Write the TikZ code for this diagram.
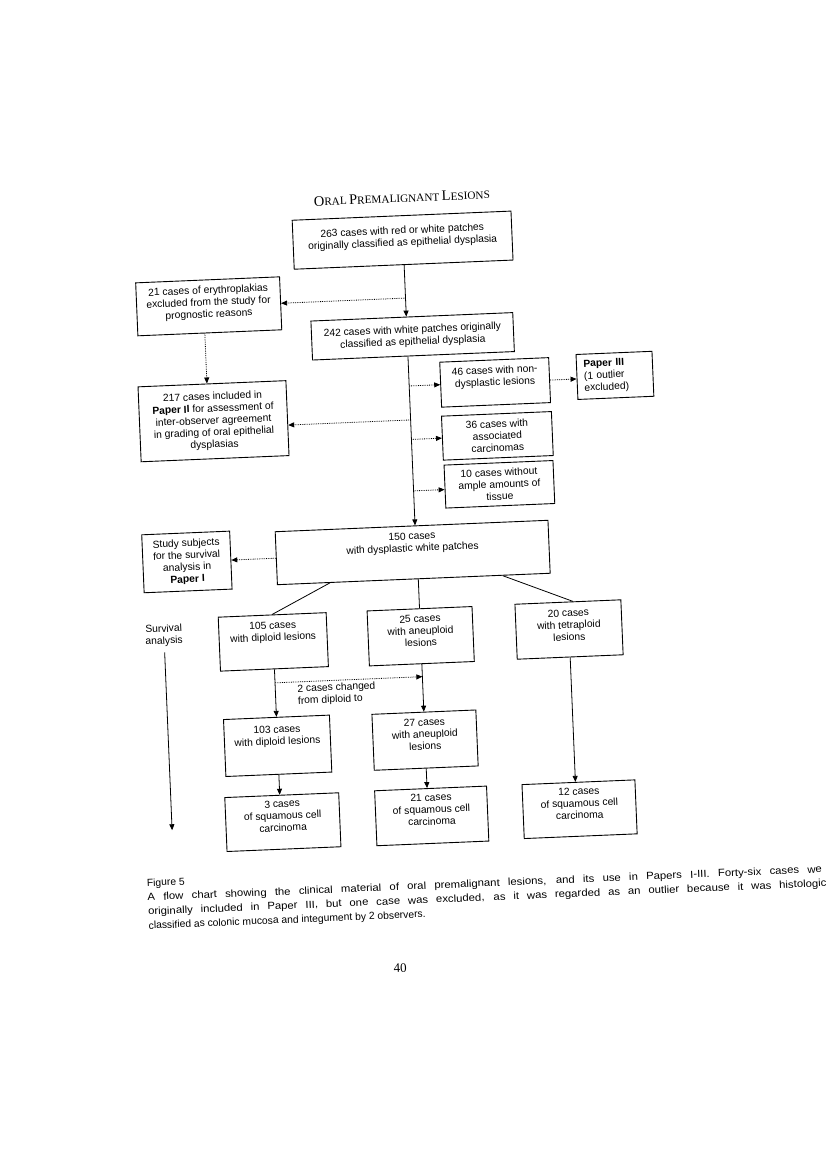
\documentclass[tikz,border=0pt]{standalone}
\usepackage{fontspec}
\setmainfont{Liberation Serif}
\setsansfont{Liberation Sans}
\newfontfamily\capwide{Liberation Sans}[FakeStretch=1.1]
\usetikzlibrary{arrows.meta, positioning}
\newcommand{\boxfont}{\sffamily\fontsize{10.3}{12}\selectfont}
\newcommand{\capfont}{\sffamily\fontsize{10.3}{14.2}\selectfont}
\newcommand{\gap}[1]{\rule[-#1]{0pt}{#1}}
\newcommand{\fakesc}[2]{{\fontsize{14.5}{16}\selectfont #1}{\fontsize{11.2}{13}\selectfont #2}}

\begin{document}
\begin{tikzpicture}[
    x=1pt, y=-1pt,
    box/.style={draw, line width=0.9pt, align=center, inner sep=2pt, font=\boxfont},
    arrow/.style={-{Triangle[length=6pt, width=5pt]}, line width=0.8pt},
    dotarrow/.style={arrow, densely dotted},
    link/.style={line width=0.8pt},
    note/.style={align=center, inner sep=1pt, font=\boxfont}
]
    \useasboundingbox (0,0) rectangle (826,1169);
    % the scanned page sits slightly turned
    \begin{scope}[rotate around={2.4:(413,584)}, transform shape]
    \node[font=\rmfamily] (title) at (418,197.5) {\fakesc{O}{RAL} \fakesc{P}{REMALIGNANT} \fakesc{L}{ESIONS}};

    \node[box, minimum width=219pt, minimum height=49pt] (all) at (417,240) {263 cases with red or white patches\\originally classified as epithelial dysplasia\gap{8pt}};
    \node[box, minimum width=144pt, minimum height=53pt] (erythro) at (220.5,298) {21 cases of erythroplakias\\excluded from the study for\\prognostic reasons\gap{9pt}};
    \node[box, minimum width=202pt, minimum height=39pt] (white) at (423,336.5) {242 cases with white patches originally\\classified as epithelial dysplasia};
    \node[box, minimum width=148pt, minimum height=75pt] (included) at (220.5,413) {217 cases included in\\\textbf{Paper II} for assessment of\\inter-observer agreement\\in grading of oral epithelial\\dysplasias};
    \node[box, minimum width=109pt, minimum height=45pt] (nondys) at (503.5,386) {46 cases with non-\\dysplastic lesions\gap{13pt}};
    \node[box, minimum width=76pt, minimum height=45pt, text width=62pt, align=left] (paper3) at (623.5,384) {\textbf{Paper III}\\(1 outlier\\excluded)};
    \node[box, minimum width=110pt, minimum height=44pt] (assoc) at (503.5,439.5) {36 cases with\\associated\\carcinomas};
    \node[box, minimum width=109pt, minimum height=43pt] (tissue) at (503.5,488) {10 cases without\\ample amounts of\\tissue};
    \node[box, minimum width=273pt, minimum height=53pt] (dysp) at (414,552.5) {150 cases\\with dysplastic white patches\gap{21pt}};
    \node[box, minimum width=88pt, minimum height=58pt] (paper1) at (188,552.5) {Study subjects\\for the survival\\analysis in\\\textbf{Paper I}};

    \node[box, minimum width=108pt, minimum height=54pt] (diploid) at (271,636) {105 cases\\with diploid lesions\gap{21pt}};
    \node[box, minimum width=105pt, minimum height=55pt] (aneup) at (418.5,636.5) {25 cases\\with aneuploid\\lesions\gap{11pt}};
    \node[box, minimum width=106pt, minimum height=55pt] (tetra) at (567,636) {20 cases\\with tetraploid\\lesions\gap{9pt}};
    \node[note] (surv) at (162,625) {Survival\\analysis};

    \node[box, minimum width=106pt, minimum height=57pt] (diploid2) at (271,740) {103 cases\\with diploid lesions\gap{21pt}};
    \node[box, minimum width=104pt, minimum height=56pt] (aneup2) at (418.5,740.5) {27 cases\\with aneuploid\\lesions\gap{12pt}};
    \node[box, minimum width=114pt, minimum height=54pt] (scc1) at (273,816.5) {3 cases\\of squamous cell\\carcinoma\gap{13pt}};
    \node[box, minimum width=112pt, minimum height=55pt] (scc2) at (422,816.5) {21 cases\\of squamous cell\\carcinoma\gap{13pt}};
    \node[box, minimum width=113pt, minimum height=54pt] (scc3) at (570,816) {12 cases\\of squamous cell\\carcinoma\gap{12pt}};
    \node[note, align=left, anchor=west] (changed) at (292,690.6) {2 cases changed\\from diploid to};

    % main trunk and side exits
    \coordinate (t1) at (417.5,298);
    \coordinate (t2) at (417.5,386);
    \coordinate (t3) at (417.5,420);
    \coordinate (t4) at (417.5,439.5);
    \coordinate (t5) at (417.5,491);
    \draw[arrow] ([xshift=0.5pt]all.south) -- ([xshift=-5.5pt]white.north);
    \draw[dotarrow] (t1) -- (erythro.east);
    \draw[dotarrow] ([xshift=-5pt]erythro.south) -- ([xshift=-5pt]included.north);
    \draw[arrow] ([xshift=-5.5pt]white.south) -- ([xshift=3.5pt]dysp.north);
    \draw[dotarrow] (t2) -- (nondys.west);
    \draw[dotarrow] (nondys.east) -- ([yshift=-2pt]paper3.west);
    \draw[dotarrow] (t3) -- ([yshift=-7pt]included.east);
    \draw[dotarrow] (t4) -- (assoc.west);
    \draw[dotarrow] (t5) -- ([yshift=-3pt]tissue.west);
    \draw[dotarrow] (dysp.west) -- (paper1.east);

    % ploidy groups
    \draw[link] ([xshift=-84pt]dysp.south) -- (diploid.north);
    \draw[link] ([xshift=4.5pt]dysp.south) -- (aneup.north);
    \draw[link] ([xshift=89pt]dysp.south) -- ([xshift=5pt]tetra.north);
    \draw[arrow] (diploid.south) -- (diploid2.north);
    \draw[arrow] (aneup.south) -- (aneup2.north);
    \coordinate (sw1) at (271,677);
    \coordinate (sw2) at (418.5,677);
    \draw[dotarrow] (sw1) -- (sw2);
    \draw[arrow] (diploid2.south) -- ([xshift=-2pt]scc1.north);
    \draw[arrow] (aneup2.south) -- ([xshift=-3.5pt]scc2.north);
    \draw[arrow] (tetra.south) -- ([xshift=-3pt]scc3.north);
    \coordinate (survend) at (162,820);
    \draw[arrow] ([yshift=-5pt]surv.south) -- (survend);

    \node[anchor=north west, align=left, inner sep=0pt, font=\capfont] (caption) at (134.5,867.5) {Figure 5\\{\capwide\makebox[675pt][s]{A flow chart showing the clinical material of oral premalignant lesions, and its use in Papers I-III. Forty-six cases we}}\\{\capwide\makebox[679pt][s]{originally included in Paper III, but one case was excluded, as it was regarded as an outlier because it was histologic}}\\classified as colonic mucosa and integument by 2 observers.};
    \node[font=\rmfamily\fontsize{13}{15}\selectfont] (pagenum) at (384,967.5) {40};
    \end{scope}
\end{tikzpicture}
\end{document}
